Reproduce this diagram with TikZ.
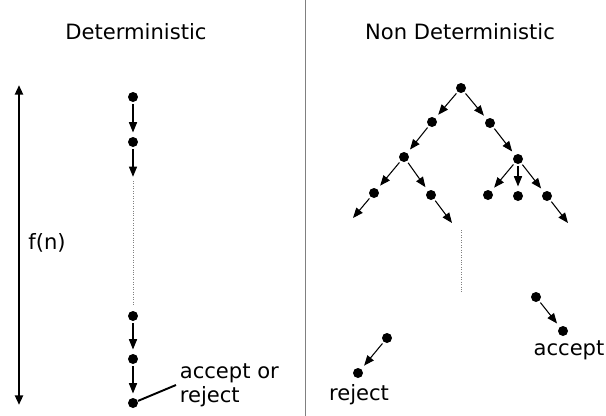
\documentclass[tikz,border=0pt]{standalone}
\usepackage{fontspec}
\setmainfont{DejaVu Sans}
\usetikzlibrary{arrows.meta,positioning}

\begin{document}
\begin{tikzpicture}[x=0.02cm, y=-0.02cm,
  dot/.style={circle, fill=black, inner sep=0pt, minimum size=0.2cm},
  lbl/.style={font=\fontsize{12}{13.7}\selectfont, inner sep=2pt},
  darr/.style={-{Triangle[length=5.8pt,width=4.6pt]}, line width=0.6pt,
               shorten <=1pt, shorten >=2.4pt},
  dotline/.style={densely dotted, line width=0.4pt, gray}
]
\useasboundingbox (0,0) rectangle (606,416);

% Titles and divider
\node[lbl] (tdet) at (136,32) {Deterministic};
\node[lbl] (tnon) at (460,32) {Non Deterministic};
\coordinate (divtop) at (305,0);
\coordinate (divbot) at (305,416);
\draw[gray, line width=0.5pt] (divtop) -- (divbot);

% Time axis
\coordinate (ftop) at (19,85);
\coordinate (fbot) at (19,405);
\draw[{Triangle[length=5.5pt,width=4.5pt]}-{Triangle[length=5.5pt,width=4.5pt]}, line width=1.7pt] (ftop) -- (fbot);
\node[lbl] (fn) at (47,243) {f(n)};

% Deterministic chain
\node[dot] (d1) at (133,97) {};
\node[dot] (d2) at (133,142) {};
\coordinate (d3) at (133,181);
\coordinate (d4) at (133,306);
\node[dot] (d5) at (133,316) {};
\node[dot] (d6) at (133,359) {};
\node[dot] (d7) at (133,403) {};
\draw[darr] (d1) -- (d2);
\draw[darr] (d2) -- (d3);
\draw[dotline] (d3) -- (d4);
\draw[darr] (d5) -- (d6);
\draw[darr] (d6) -- (d7);
\node[lbl, anchor=west, align=left] (acc) at (176,385) {accept or\\reject};
\draw[line width=1.1pt] (d7) -- (acc.west);

% Non deterministic tree
\node[dot] (root) at (461,88) {};
\node[dot] (l1) at (432,122) {};
\node[dot] (r1) at (490,123) {};
\node[dot] (l2) at (404,157) {};
\node[dot] (r2) at (518,159) {};
\node[dot] (l3) at (374,193) {};
\node[dot] (l4) at (431,195) {};
\node[dot] (r3) at (488,195) {};
\node[dot] (r4) at (518,196) {};
\node[dot] (r5) at (547,196) {};
\coordinate (l3e) at (353,218);
\coordinate (l4e) at (452,223);
\coordinate (r5e) at (568,223);
\draw[darr] (root) -- (l1);
\draw[darr] (root) -- (r1);
\draw[darr] (l1) -- (l2);
\draw[darr] (r1) -- (r2);
\draw[darr] (l2) -- (l3);
\draw[darr] (l2) -- (l4);
\draw[darr] (r2) -- (r3);
\draw[darr] (r2) -- (r4);
\draw[darr] (r2) -- (r5);
\draw[darr, shorten >=0pt] (l3) -- (l3e);
\draw[darr, shorten >=0pt] (l4) -- (l4e);
\draw[darr, shorten >=0pt] (r5) -- (r5e);

% Dotted gap
\coordinate (gtop) at (461,230);
\coordinate (gbot) at (461,293);
\draw[dotline] (gtop) -- (gbot);

% Leaves
\node[dot] (a1) at (536,297) {};
\node[dot] (a2) at (563,331) {};
\draw[darr] (a1) -- (a2);
\node[lbl] (acc2) at (569,350) {accept};
\node[dot] (j1) at (387,338) {};
\node[dot] (j2) at (358,373) {};
\draw[darr] (j1) -- (j2);
\node[lbl] (rej) at (359,395) {reject};
\end{tikzpicture}
\end{document}
